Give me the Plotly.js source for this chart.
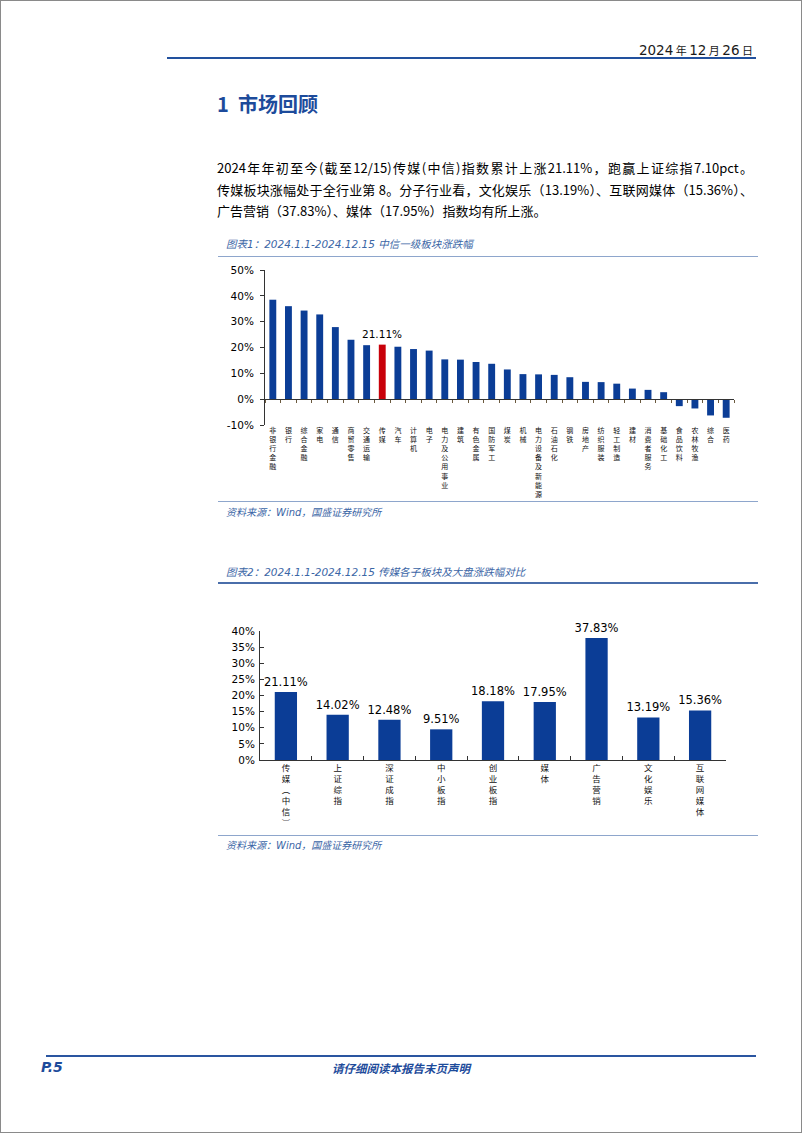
<!DOCTYPE html>
<html><head><meta charset="utf-8">
<script src="https://cdn.plot.ly/plotly-3.0.1.min.js"></script>
<style>
html,body{margin:0;padding:0;background:#fff;}
#page{position:relative;width:800px;height:1131px;border:1px solid #8a8a8a;overflow:hidden;background:#fff;
 font-family:"DejaVu Sans","Noto Sans CJK SC",sans-serif;color:#000;}
.abs{position:absolute;}
.cap{font-family:"DejaVu Sans","Noto Sans CJK SC",sans-serif;font-style:italic;font-size:10.5px;color:#3b66a6;white-space:nowrap;}
.src{font-family:"DejaVu Sans","Noto Sans CJK SC",sans-serif;font-style:italic;font-size:10px;color:#3b66a6;white-space:nowrap;}
.para{font-family:"Noto Sans CJK SC",sans-serif;font-size:13px;line-height:21.5px;width:536px;}
.para div{text-align:justify;text-align-last:justify;white-space:nowrap;}
.para div.last{text-align-last:left;}
</style></head>
<body>
<div id="page">
  <div class="abs" style="right:48px;top:39px;white-space:nowrap;color:#1a1a1a;">
    <span style="font-size:13.5px;">2024</span><span style="font-family:'Noto Sans CJK SC';font-size:11px;"> 年 </span><span style="font-size:13.5px;">12</span><span style="font-family:'Noto Sans CJK SC';font-size:11px;"> 月 </span><span style="font-size:13.5px;">26</span><span style="font-family:'Noto Sans CJK SC';font-size:11px;"> 日</span>
  </div>
  <div class="abs" style="left:166px;top:56px;width:589px;height:2px;background:#22519e;"></div>

  <div class="abs" style="left:216px;top:88px;font-family:'Noto Sans CJK SC';font-weight:bold;font-size:20px;color:#1d4b9b;white-space:nowrap;">1&nbsp;&nbsp;市场回顾</div>

  <div class="abs para" style="left:216px;top:156px;">
    <div>2024年年初至今(截至12/15)传媒(中信)指数累计上涨21.11%，跑赢上证综指7.10pct。</div>
    <div>传媒板块涨幅处于全行业第 8。分子行业看，文化娱乐（13.19%）、互联网媒体（15.36%）、</div>
    <div class="last">广告营销（37.83%）、媒体（17.95%）指数均有所上涨。</div>
  </div>

  <div class="abs cap" style="left:225px;top:235px;">图表1：2024.1.1-2024.12.15 中信一级板块涨跌幅</div>
  <div class="abs" style="left:217px;top:255px;width:540px;height:1px;background:#8ea6cc;"></div>
  <div id="chart1" class="abs" style="left:200px;top:258px;width:560px;height:242px;"></div>
  <div class="abs" style="left:217px;top:500px;width:540px;height:1px;background:#8ea6cc;"></div>
  <div class="abs src" style="left:225px;top:503px;">资料来源：Wind，国盛证券研究所</div>

  <div class="abs cap" style="left:225px;top:563px;">图表2：2024.1.1-2024.12.15 传媒各子板块及大盘涨跌幅对比</div>
  <div class="abs" style="left:217px;top:581px;width:540px;height:2px;background:#4a6eaa;"></div>
  <div id="chart2" class="abs" style="left:200px;top:590px;width:560px;height:243px;"></div>
  <div class="abs" style="left:217px;top:834px;width:540px;height:1px;background:#8ea6cc;"></div>
  <div class="abs src" style="left:225px;top:836px;">资料来源：Wind，国盛证券研究所</div>

  <div class="abs" style="left:45px;top:1054px;width:710px;height:2px;background:#2a55a0;"></div>
  <div class="abs" style="left:40px;top:1058px;font-weight:bold;font-style:italic;font-size:14px;color:#1d4b9b;">P.5</div>
  <div class="abs" style="left:300px;top:1059px;width:200px;text-align:center;font-family:'Noto Sans CJK SC';font-style:italic;font-weight:bold;font-size:11.5px;color:#1d4b9b;">请仔细阅读本报告末页声明</div>
</div>

<script>
// ---- Chart 1 data ----
const sectorNames = ["非银行金融","银行","综合金融","家电","通信","商贸零售","交通运输","传媒","汽车","计算机","电子","电力及公用事业","建筑","有色金属","国防军工","煤炭","机械","电力设备及新能源","石油石化","钢铁","房地产","纺织服装","轻工制造","建材","消费者服务","基础化工","食品饮料","农林牧渔","综合","医药"];
const sectorChanges = [38.5,36.0,34.3,32.8,27.9,23.0,20.9,21.11,20.3,19.4,18.8,15.4,15.3,14.4,13.7,11.5,9.7,9.6,9.4,8.5,6.7,6.6,6.0,4.1,3.6,2.7,-2.7,-3.6,-6.3,-7.2];
const highlightName = "传媒";
const yTicks1 = [-10,0,10,20,30,40,50];

// ---- Chart 2 data ----
const indexNames = ["传媒︵中信︶","上证综指","深证成指","中小板指","创业板指","媒体","广告营销","文化娱乐","互联网媒体"];
const indexChanges = [21.11,14.02,12.48,9.51,18.18,17.95,37.83,13.19,15.36];
const yTicks2 = [0,5,10,15,20,25,30,35,40];

const BLUE = "#0b3d96", RED = "#c8000a";
const vert = s => Array.from(s).join("<br>");
const cfg = {staticPlot:true, displayModeBar:false};
const catFont = {family:"Noto Sans CJK SC, sans-serif", size:7, color:"#111"};
const numFont = {family:"DejaVu Sans, sans-serif", size:10.5, color:"#000"};

// Chart 1
(function(){
  const yMin = -10, yMax = 50;
  const hi = sectorNames.indexOf(highlightName);
  const data = [
    {type:"bar", x:sectorNames, y:sectorChanges,
     marker:{color:sectorNames.map(n => n===highlightName ? RED : BLUE)},
     hoverinfo:"skip"},
    {type:"scatter", mode:"none", x:sectorNames, y:sectorChanges, xaxis:"x2", hoverinfo:"skip", showlegend:false}
  ];
  const layout = {
    width:560, height:242, margin:{l:64,r:27,t:11,b:76},
    paper_bgcolor:"rgba(0,0,0,0)", plot_bgcolor:"rgba(0,0,0,0)",
    showlegend:false, bargap:0.56,
    xaxis:{type:"category", categoryarray:sectorNames, range:[-0.5, sectorNames.length-0.5],
      tickvals:sectorNames, ticktext:sectorNames.map(vert), tickfont:catFont,
      showline:false, ticks:"", showgrid:false, zeroline:false, tickangle:0},
    xaxis2:{type:"category", categoryarray:sectorNames, range:[-0.5, sectorNames.length-0.5],
      overlaying:"x", anchor:"free", position:(0-yMin)/(yMax-yMin),
      showticklabels:false, showline:true, linecolor:"#333", linewidth:1,
      ticks:"outside", tickson:"boundaries", ticklen:3, tickcolor:"#6b5a3e", showgrid:false, zeroline:false},
    yaxis:{range:[yMin,yMax], tickvals:yTicks1, ticktext:yTicks1.map(v=>v+"%"),
      showline:true, linecolor:"#333", linewidth:1, ticks:"outside", ticklen:4, tickcolor:"#333",
      showgrid:false, zeroline:false, tickfont:numFont, ticklabelstandoff:4},
    annotations:[{x:sectorNames[hi], y:sectorChanges[hi], text:sectorChanges[hi].toFixed(2)+"%",
      showarrow:false, yanchor:"bottom", yshift:3, font:{family:"DejaVu Sans, sans-serif", size:10.5, color:"#000"}}]
  };
  Plotly.newPlot("chart1", data, layout, cfg);
})();

// Chart 2
(function(){
  const data = [{type:"bar", x:indexNames, y:indexChanges, marker:{color:BLUE},
    text:indexChanges.map(v=>v.toFixed(2)+"%"), textposition:"outside", cliponaxis:false, constraintext:"none",
    textfont:{family:"DejaVu Sans, sans-serif", size:11.5, color:"#000"}, hoverinfo:"skip"}];
  const layout = {
    width:560, height:243, margin:{l:59,r:35,t:40,b:74},
    paper_bgcolor:"rgba(0,0,0,0)", plot_bgcolor:"rgba(0,0,0,0)",
    showlegend:false, bargap:0.57, uniformtext:{mode:false},
    xaxis:{type:"category", categoryarray:indexNames, range:[-0.5, indexNames.length-0.5],
      tickvals:indexNames, ticktext:indexNames.map(vert), tickfont:{family:"Noto Sans CJK SC, sans-serif", size:8.5, color:"#111"},
      showline:true, linecolor:"#333", linewidth:1, ticks:"inside", tickson:"boundaries", ticklen:4, tickcolor:"#333",
      showgrid:false, zeroline:false, tickangle:0},
    yaxis:{range:[0,40], tickvals:yTicks2, ticktext:yTicks2.map(v=>v+"%"),
      showline:true, linecolor:"#333", linewidth:1, ticks:"inside", ticklen:4, tickcolor:"#333",
      showgrid:false, zeroline:false, tickfont:numFont, ticklabelstandoff:2}
  };
  Plotly.newPlot("chart2", data, layout, cfg);
})();
</script>
</body></html>
